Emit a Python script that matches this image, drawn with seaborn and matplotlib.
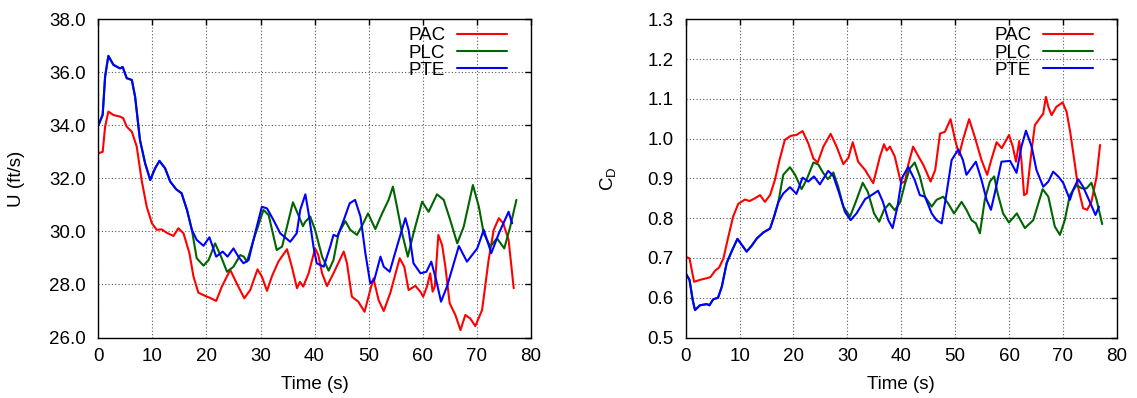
import matplotlib
matplotlib.use("Agg")
import matplotlib.pyplot as plt
import seaborn as sns
import pandas as pd

# ---- left panel: U (ft/s) ----
t_u_pac = [0, 0.8, 1.25, 1.85, 2.8, 4.0, 4.6, 5.25, 6.2, 7.1, 8.0, 8.95, 9.9, 10.8, 11.7, 12.65,
           13.9, 14.8, 15.75, 16.85, 17.6, 18.5, 19.75, 20.6, 21.8, 22.85, 24.4, 25.6, 27.0, 28.1,
           29.45, 30.25, 31.2, 32.1, 33.3, 34.9, 35.8, 36.75, 37.3, 37.9, 38.9, 40.1, 40.7, 41.4,
           42.3, 43.5, 45.4, 46.0, 46.9, 48.1, 49.25, 50.3, 50.9, 51.85, 52.8, 54.0, 55.75, 56.6,
           57.4, 58.65, 59.6, 60.1, 60.8, 61.4, 61.85, 62.25, 62.9, 63.6, 64.2, 65.0, 66.05, 67.0,
           67.9, 68.8, 69.75, 71.0, 72.2, 73.15, 74.1, 74.9, 75.9, 76.85]
u_pac = [32.95, 33.0, 33.95, 34.52, 34.39, 34.33, 34.27, 33.95, 33.76, 33.2, 31.94, 30.93, 30.31,
         30.06, 30.08, 29.95, 29.83, 30.12, 29.93, 29.18, 28.3, 27.69, 27.57, 27.5, 27.38, 27.92,
         28.55, 28.04, 27.48, 27.79, 28.57, 28.3, 27.76, 28.3, 28.86, 29.33, 28.67, 27.86, 28.1,
         27.92, 28.42, 29.36, 29.11, 28.42, 27.94, 28.42, 29.24, 28.8, 27.54, 27.35, 26.97, 27.79,
         28.23, 27.41, 27.0, 27.67, 28.99, 28.67, 27.79, 27.95, 27.72, 27.54, 27.92, 28.42, 27.73,
         27.92, 29.87, 29.49, 28.67, 27.29, 26.85, 26.28, 26.85, 26.72, 26.43, 27.04, 28.92, 30.06,
         30.5, 30.31, 29.68, 27.86]

t_u_plc = [0, 0.8, 1.25, 1.85, 2.8, 4.0, 4.5, 5.25, 6.2, 6.8, 7.7, 8.65, 9.6, 10.5, 11.3, 12.35,
           13.3, 14.4, 15.4, 16.4, 17.3, 18.2, 19.45, 20.4, 21.6, 22.7, 23.8, 25.0, 26.25, 26.9,
           27.5, 28.7, 30.55, 31.5, 33.0, 34.0, 34.9, 36.0, 37.0, 37.85, 38.3, 39.2, 40.1, 41.4,
           42.6, 43.5, 44.45, 45.7, 46.6, 47.85, 48.7, 49.9, 51.25, 52.5, 53.7, 54.5, 55.25, 56.2,
           57.25, 58.3, 59.9, 61.1, 62.65, 63.9, 65.1, 66.4, 67.6, 69.3, 70.4, 71.3, 72.5, 73.75,
           75.1, 76.2, 77.35]
u_plc = [34.0, 34.4, 35.84, 36.62, 36.28, 36.15, 36.2, 35.78, 35.71, 35.08, 33.45, 32.57, 31.94,
         32.38, 32.66, 32.38, 31.88, 31.59, 31.44, 30.81, 30.06, 28.99, 28.71, 28.92, 29.55, 29.05,
         28.48, 28.67, 29.11, 29.05, 28.86, 29.68, 30.81, 30.62, 29.30, 29.43, 30.18, 31.1, 30.62,
         30.2, 30.37, 30.56, 30.06, 29.05, 28.52, 28.92, 29.93, 30.39, 30.06, 29.87, 30.18, 30.68,
         30.09, 30.68, 31.19, 31.69, 30.93, 29.93, 29.05, 29.93, 31.12, 30.74, 31.4, 31.19, 30.43,
         29.55, 30.18, 31.75, 30.93, 29.93, 29.43, 29.74, 29.36, 30.18, 31.19]

t_u_pte = [0, 0.8, 1.25, 1.85, 2.8, 4.0, 4.5, 5.25, 6.2, 6.8, 7.7, 8.65, 9.6, 10.5, 11.3, 12.35,
           13.3, 14.4, 15.4, 16.4, 17.3, 18.2, 19.45, 20.55, 21.8, 23.0, 23.9, 25.0, 25.9, 26.85,
           27.8, 29.0, 30.25, 31.2, 32.4, 33.65, 35.5, 36.7, 37.35, 38.3, 38.9, 39.8, 40.4, 41.7,
           42.9, 43.5, 44.25, 45.4, 46.5, 47.5, 48.5, 49.4, 50.3, 51.05, 52.2, 52.8, 53.9, 55.25,
           56.8, 57.4, 58.3, 59.6, 60.7, 61.6, 62.5, 63.4, 64.5, 66.7, 68.2, 70.1, 71.3, 72.7,
           74.1, 75.9, 76.55]
u_pte = [34.0, 34.4, 35.84, 36.62, 36.28, 36.15, 36.2, 35.78, 35.71, 35.08, 33.45, 32.57, 31.94,
         32.38, 32.66, 32.38, 31.88, 31.59, 31.44, 30.81, 30.06, 29.68, 29.46, 29.78, 29.05, 29.24,
         29.05, 29.36, 29.05, 28.80, 28.92, 29.93, 30.93, 30.87, 30.43, 29.93, 29.61, 29.93, 30.81,
         31.4, 30.68, 29.43, 28.8, 28.67, 29.43, 29.87, 29.81, 30.43, 31.06, 31.19, 30.56, 29.18,
         28.05, 28.17, 29.05, 28.67, 28.48, 29.43, 30.5, 30.06, 28.8, 28.42, 28.48, 28.86, 28.17,
         27.35, 27.92, 29.45, 28.86, 29.36, 30.06, 29.18, 29.93, 30.74, 30.31]

# ---- right panel: C_D ----
t_c_pac = [0, 0.7, 1.55, 2.65, 3.9, 4.6, 5.45, 6.2, 7.0, 7.9, 8.8, 9.75, 11.0, 11.85, 12.85, 13.8,
           14.7, 15.65, 16.55, 17.4, 18.4, 19.5, 20.5, 21.7, 22.75, 23.7, 24.5, 25.55, 26.9, 28.0,
           29.25, 30.2, 31.0, 32.0, 33.3, 34.8, 36.05, 36.8, 37.3, 37.9, 38.8, 39.95, 40.7, 41.3,
           42.2, 43.2, 44.1, 45.45, 46.3, 47.2, 48.1, 49.15, 50.0, 50.75, 51.45, 52.6, 53.65, 54.9,
           55.95, 56.7, 57.7, 58.65, 60.0, 60.7, 61.3, 61.9, 62.3, 62.8, 63.3, 64.2, 64.8, 65.7,
           66.35, 66.85, 67.3, 67.9, 68.8, 69.95, 70.7, 71.4, 72.2, 72.8, 73.75, 74.5, 75.3, 76.25,
           76.9]
cd_pac = [0.703, 0.699, 0.640, 0.645, 0.649, 0.652, 0.668, 0.676, 0.699, 0.753, 0.804, 0.836,
          0.847, 0.843, 0.85, 0.858, 0.841, 0.858, 0.896, 0.946, 0.997, 1.007, 1.009, 1.019, 0.988,
          0.95, 0.94, 0.98, 1.012, 0.98, 0.936, 0.952, 0.991, 0.942, 0.921, 0.888, 0.955, 0.986,
          0.97, 0.98, 0.955, 0.888, 0.892, 0.934, 0.98, 0.955, 0.934, 0.892, 0.921, 1.013, 1.017,
          1.049, 0.997, 0.959, 0.997, 1.049, 1.004, 0.946, 0.909, 0.946, 0.991, 0.976, 1.009, 0.98,
          0.942, 0.994, 0.946, 0.858, 0.862, 0.971, 1.034, 1.051, 1.063, 1.105, 1.08, 1.059, 1.08,
          1.091, 1.067, 1.013, 0.938, 0.879, 0.825, 0.821, 0.841, 0.904, 0.984]

t_c_plc = [0, 0.7, 1.3, 1.72, 2.65, 3.9, 4.4, 5.1, 6.0, 6.7, 7.6, 8.5, 9.6, 10.4, 11.3, 12.2,
           13.2, 14.4, 15.65, 16.4, 17.2, 18.1, 19.35, 20.3, 21.5, 22.4, 23.7, 24.6, 25.55, 26.4,
           27.4, 28.3, 29.25, 30.5, 31.7, 32.85, 33.8, 34.95, 35.9, 36.8, 37.8, 38.8, 39.8, 40.7,
           41.6, 42.5, 43.45, 44.4, 45.65, 46.55, 47.8, 48.7, 49.8, 51.2, 52.1, 53.05, 53.85, 54.6,
           55.5, 56.45, 57.25, 57.9, 58.9, 60.0, 61.45, 62.95, 64.5, 66.25, 67.3, 68.5, 69.45,
           70.35, 71.3, 72.55, 73.5, 74.4, 75.3, 76.25, 77.3]
cd_plc = [0.661, 0.645, 0.594, 0.569, 0.581, 0.584, 0.581, 0.596, 0.60, 0.628, 0.687, 0.716,
          0.748, 0.733, 0.716, 0.73, 0.749, 0.764, 0.774, 0.804, 0.841, 0.909, 0.928, 0.909, 0.873,
          0.896, 0.94, 0.935, 0.913, 0.898, 0.915, 0.879, 0.829, 0.804, 0.846, 0.889, 0.866, 0.812,
          0.791, 0.821, 0.837, 0.82, 0.84, 0.887, 0.925, 0.94, 0.905, 0.854, 0.829, 0.846, 0.854,
          0.837, 0.812, 0.841, 0.821, 0.795, 0.787, 0.762, 0.846, 0.892, 0.905, 0.862, 0.812,
          0.789, 0.812, 0.775, 0.795, 0.873, 0.854, 0.779, 0.758, 0.795, 0.858, 0.883, 0.875,
          0.875, 0.889, 0.846, 0.785]

t_c_pte = [0, 0.7, 1.3, 1.72, 2.65, 3.9, 4.4, 5.1, 6.0, 6.7, 7.6, 8.5, 9.6, 10.4, 11.3, 12.2,
           13.2, 14.4, 15.65, 16.4, 17.2, 18.1, 19.35, 20.55, 21.7, 22.75, 23.8, 24.9, 26.45, 27.4,
           28.5, 29.55, 30.6, 31.7, 33.3, 34.5, 35.7, 36.6, 37.6, 38.4, 39.3, 40.1, 41.3, 42.5,
           43.45, 44.4, 45.65, 46.55, 47.5, 48.4, 49.35, 50.6, 51.45, 52.1, 53.85, 54.9, 55.85,
           56.65, 57.35, 58.6, 60.2, 61.4, 62.3, 63.15, 64.2, 65.1, 66.35, 67.3, 68.2, 69.2, 70.05,
           70.7, 71.3, 71.9, 72.85, 73.75, 75.0, 76.05, 76.7]
cd_pte = [0.661, 0.645, 0.594, 0.569, 0.581, 0.584, 0.581, 0.596, 0.60, 0.628, 0.687, 0.716,
          0.748, 0.733, 0.716, 0.73, 0.749, 0.764, 0.774, 0.804, 0.841, 0.862, 0.878, 0.861, 0.902,
          0.892, 0.905, 0.885, 0.919, 0.906, 0.862, 0.816, 0.795, 0.812, 0.848, 0.858, 0.869, 0.841,
          0.795, 0.775, 0.829, 0.9, 0.929, 0.896, 0.858, 0.854, 0.812, 0.795, 0.787, 0.862, 0.946,
          0.973, 0.946, 0.909, 0.942, 0.896, 0.846, 0.821, 0.862, 0.942, 0.944, 0.914, 0.98, 1.02,
          0.98, 0.921, 0.879, 0.892, 0.917, 0.904, 0.889, 0.867, 0.846, 0.871, 0.898, 0.879, 0.841,
          0.808, 0.829]

series_names = ["PAC", "PLC", "PTE"]
series_colors = ["#ff0000", "#006400", "#0000ff"]

sns.set_style("white")
plt.rcParams["font.family"] = ["Liberation Sans", "DejaVu Sans"]
plt.rcParams["mathtext.default"] = "regular"
plt.rcParams["font.size"] = 13.5
plt.rcParams["text.color"] = "black"
plt.rcParams["axes.labelcolor"] = "black"

fig = plt.figure(figsize=(11.37, 3.98), dpi=100)
ax1 = fig.add_axes([0.0865, 0.152, 0.3803, 0.7995])
ax2 = fig.add_axes([0.6031, 0.152, 0.3791, 0.7995])

panels = [
    (ax1, [(t_u_pac, u_pac), (t_u_plc, u_plc), (t_u_pte, u_pte)], (26, 38), 2.0, "U (ft/s)", -0.19),
    (ax2, [(t_c_pac, cd_pac), (t_c_plc, cd_plc), (t_c_pte, cd_pte)], (0.5, 1.3), 0.1, "C$_D$", -0.181),
]

for ax, data, ylim, ystep, ylab, ylab_x in panels:
    for (tt, vv), name, col in zip(data, series_names, series_colors):
        df = pd.DataFrame({"t": tt, "v": vv})
        sns.lineplot(data=df, x="t", y="v", ax=ax, color=col, lw=1.5, label=name,
                     sort=False, estimator=None)
    ax.set_xlim(0, 80)
    ax.set_ylim(*ylim)
    ax.set_xticks(range(0, 81, 10))
    n = int(round((ylim[1] - ylim[0]) / ystep))
    yt = [ylim[0] + i * ystep for i in range(n + 1)]
    ax.set_yticks(yt)
    ax.set_yticklabels([f"{v:.1f}" for v in yt])
    ax.grid(True, color="#555555", lw=0.8, linestyle=(0, (1, 2)))
    ax.tick_params(axis="both", direction="in", top=True, right=True, length=4, width=1,
                   labelsize=13.5, colors="black")
    ax.tick_params(axis="y", pad=8.8)
    ax.tick_params(axis="x", pad=7.5)
    for sp in ax.spines.values():
        sp.set_color("black")
        sp.set_linewidth(1.0)
    ax.set_xlabel("Time (s)", fontsize=13.5)
    ax.xaxis.set_label_coords(0.5, -0.121)
    ax.set_ylabel(ylab, fontsize=13.5, va="center")
    ax.yaxis.set_label_coords(ylab_x, 0.5)
    ax.legend(loc="upper right", bbox_to_anchor=(0.946, 0.975), frameon=False, markerfirst=False,
              handlelength=2.7, handletextpad=0.62, labelspacing=0.0, borderpad=0,
              borderaxespad=0, fontsize=13.5)

fig.savefig("out.png", dpi=100)
